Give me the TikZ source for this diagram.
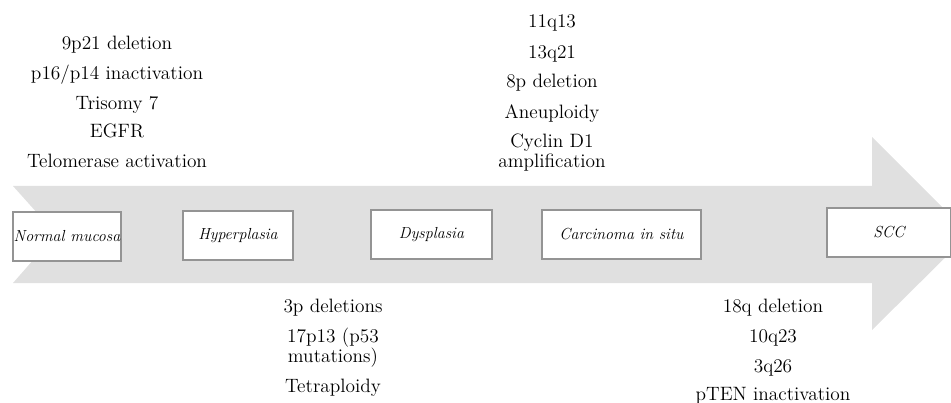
\documentclass[tikz,border=0pt]{standalone}
\usepackage{fontspec}
\begin{document}
\begin{tikzpicture}[x=0.75pt,y=-0.75pt,
  stage/.style={draw=black!42,line width=1.1pt,fill=white,inner sep=0pt,
    minimum height=36.75pt,font=\fontsize{12}{14}\selectfont\itshape},
  gene/.style={anchor=base,inner sep=0pt,font=\fontsize{14.5}{16}\selectfont}]
\useasboundingbox (0,0) rectangle (951,403);
\clip (0,0) rectangle (951,403);
% band arrow
\fill[black!12] (13,186) -- (872,186) -- (872,137) -- (969,234) -- (872,330)
  -- (872,283) -- (13,283) -- (56,234) -- cycle;
% stage boxes
\node[stage,minimum width=81pt] (n) at (67,236.5) {Normal mucosa};
\node[stage,minimum width=82.5pt] (h) at (238,235.5) {Hyperplasia};
\node[stage,minimum width=90.75pt] (d) at (431.5,234.5) {Dysplasia};
\node[stage,minimum width=119.25pt] (c) at (621.5,234.5) {Carcinoma in situ};
\node[stage,minimum width=93pt] (s) at (889,232.5) {SCC};
% top-left genes
\node[gene] (a1) at (117,50) {9p21 deletion};
\node[gene] (a2) at (117,80) {p16/p14 inactivation};
\node[gene] (a3) at (117,110) {Trisomy 7};
\node[gene] (a4) at (117,138) {EGFR};
\node[gene] (a5) at (117,168) {Telomerase activation};
% top-middle genes
\node[gene] (b1) at (552,28) {11q13};
\node[gene] (b2) at (552,59) {13q21};
\node[gene] (b3) at (552,88) {8p deletion};
\node[gene] (b4) at (552,118) {Aneuploidy};
\node[gene] (b5) at (552,147) {Cyclin D1};
\node[gene] (b6) at (552,167) {amplification};
% bottom-middle genes
\node[gene] (c1) at (333,312) {3p deletions};
\node[gene] (c2) at (333,342) {17p13 (p53};
\node[gene] (c3) at (333,362) {mutations)};
\node[gene] (c4) at (333,392) {Tetraploidy};
% bottom-right genes
\node[gene] (d1) at (773,312) {18q deletion};
\node[gene] (d2) at (773,342) {10q23};
\node[gene] (d3) at (773,372) {3q26};
\node[gene] (d4) at (773,400) {pTEN inactivation};
\end{tikzpicture}
\end{document}
